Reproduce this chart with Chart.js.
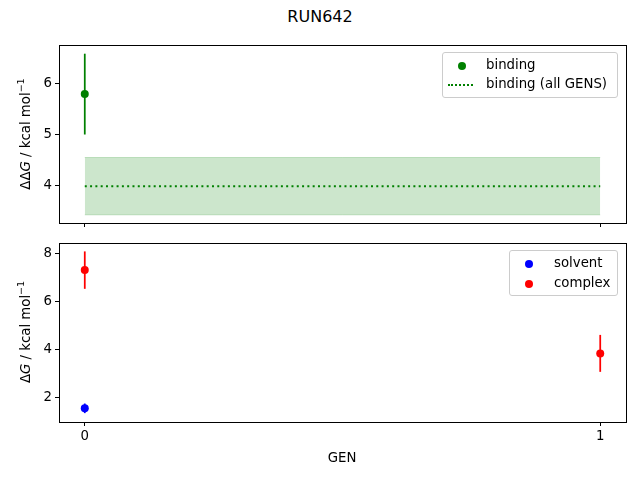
<!DOCTYPE html>
<html>
<head>
<meta charset="utf-8">
<script src="https://cdn.jsdelivr.net/npm/chart.js@4/dist/chart.umd.min.js"></script>
<style>
  body { margin: 0; background: #fff; font-family: "DejaVu Sans", sans-serif; }
  #wrap { position: relative; width: 640px; height: 480px; overflow: hidden; }
  canvas { position: absolute; left: 0; }
  .txt { position: absolute; color: #000; white-space: nowrap; font-size: 13.3px; }
  .ylab { transform: translate(-50%, -50%) rotate(-90deg); }
  .legend { position: absolute; background: rgba(255,255,255,0.8); border: 1px solid #cccccc; border-radius: 3px; box-sizing: border-box; }
  .entry { position: absolute; font-size: 13.3px; line-height: 16px; }
  .dot { position: absolute; width: 8px; height: 8px; border-radius: 50%; }
</style>
</head>
<body>
<div id="wrap">
  <div class="txt" style="left:320px; top:16px; transform:translate(-50%,-50%); font-size:16px;">RUN642</div>
  <canvas id="top" width="640" height="240" style="top:0"></canvas>
  <canvas id="bottom" width="640" height="250" style="top:230px"></canvas>

  <div class="txt ylab" style="left:24px; top:134px;">ΔΔ<i>G</i> / kcal mol<sup style="font-size:9.5px">−1</sup></div>
  <div class="txt ylab" style="left:24px; top:332px;">Δ<i>G</i> / kcal mol<sup style="font-size:9.5px">−1</sup></div>
  <div class="txt" style="left:342px; top:457px; transform:translate(-50%,-50%);">GEN</div>

  <div class="legend" style="left:442px; top:52px; width:176px; height:46px;">
    <div class="dot" style="left:15px; top:9px; background:#008000;"></div>
    <div class="entry" style="left:43px; top:4px;">binding</div>
    <div style="position:absolute; left:5px; top:31px; width:25px; border-top:2px dotted #008000;"></div>
    <div class="entry" style="left:43px; top:23px;">binding (all GENS)</div>
  </div>
  <div class="legend" style="left:509px; top:250px; width:109px; height:46px;">
    <div class="dot" style="left:15px; top:9px; background:#0000ff;"></div>
    <div class="entry" style="left:44px; top:4px;">solvent</div>
    <div class="dot" style="left:15px; top:29px; background:#ff0000;"></div>
    <div class="entry" style="left:44px; top:24px;">complex</div>
  </div>
</div>
<script>
// data
var genTicks = [0, 1];
var bindingGen = [0];
var bindingDG = [5.79];
var bindingErr = [0.79];
var bindingAllGen = [0, 1];
var bindingAllDG = 3.99;
var bindingAllErr = 0.56;
var solventGen = [0];
var solventDG = [1.54];
var solventErr = [0.2];
var complexGen = [0, 1];
var complexDG = [7.30, 3.83];
var complexErr = [0.78, 0.77];
var topTicks = [4, 5, 6];
var bottomTicks = [2, 4, 6, 8];

var font = { family: "DejaVu Sans", size: 13.3 };

function pts(xs, ys) {
    return xs.map(function (x, i) { return { x: x, y: Array.isArray(ys) ? ys[i] : ys }; });
}

var errorBars = {
    id: 'errorBars',
    beforeDatasetsDraw: function (chart) {
        var ctx = chart.ctx, xs = chart.scales.x, ys = chart.scales.y;
        chart.data.datasets.forEach(function (ds) {
            if (!ds.errors) return;
            ctx.save();
            ctx.strokeStyle = ds.borderColor;
            ctx.lineWidth = 1.75;
            ds.data.forEach(function (p, i) {
                var x = xs.getPixelForValue(p.x);
                ctx.beginPath();
                ctx.moveTo(x, ys.getPixelForValue(p.y - ds.errors[i]));
                ctx.lineTo(x, ys.getPixelForValue(p.y + ds.errors[i]));
                ctx.stroke();
            });
            ctx.restore();
        });
    }
};

var frame = {
    id: 'frame',
    afterDraw: function (chart) {
        var a = chart.chartArea, ctx = chart.ctx;
        ctx.save();
        ctx.strokeStyle = '#000';
        ctx.lineWidth = 1;
        ctx.strokeRect(Math.round(a.left) + 0.5, Math.round(a.top) + 0.5,
            Math.round(a.right - a.left), Math.round(a.bottom - a.top));
        ctx.restore();
    }
};

function makeOptions(yMin, yMax, yTicks, padTop, xHeight, showXLabels) {
    return {
        responsive: false,
        animation: false,
        layout: { padding: { top: padTop, right: 14, left: 0, bottom: 0 } },
        plugins: { legend: { display: false }, tooltip: { enabled: false } },
        scales: {
            x: {
                type: 'linear', min: -0.05, max: 1.05,
                afterBuildTicks: function (s) { s.ticks = genTicks.map(function (v) { return { value: v }; }); },
                afterFit: function (s) { s.height = xHeight; },
                grid: { drawOnChartArea: false, tickLength: 4, color: '#000' },
                border: { display: false },
                ticks: { display: showXLabels, color: '#000', font: font, padding: 3, maxRotation: 0 }
            },
            y: {
                type: 'linear', min: yMin, max: yMax,
                afterBuildTicks: function (s) { s.ticks = yTicks.map(function (v) { return { value: v }; }); },
                afterFit: function (s) { s.width = 59; },
                grid: { drawOnChartArea: false, tickLength: 4, color: '#000' },
                border: { display: false },
                ticks: { color: '#000', font: font, padding: 3 }
            }
        }
    };
}

new Chart(document.getElementById('top').getContext('2d'), {
    type: 'scatter',
    data: {
        datasets: [{
            label: 'binding',
            data: pts(bindingGen, bindingDG),
            errors: bindingErr,
            backgroundColor: '#008000', borderColor: '#008000',
            pointRadius: 4, pointBorderWidth: 0
        }, {
            label: 'binding (all GENS)',
            type: 'line',
            data: pts(bindingAllGen, bindingAllDG),
            borderColor: '#008000', borderWidth: 2, borderDash: [2, 3.3],
            pointRadius: 0, fill: false
        }, {
            label: 'upper',
            type: 'line',
            data: pts(bindingAllGen, bindingAllDG + bindingAllErr),
            borderColor: 'rgba(0,128,0,0.2)', borderWidth: 1,
            backgroundColor: 'rgba(0,128,0,0.2)',
            pointRadius: 0, fill: '+1'
        }, {
            label: 'lower',
            type: 'line',
            data: pts(bindingAllGen, bindingAllDG - bindingAllErr),
            borderColor: 'rgba(0,128,0,0.2)', borderWidth: 1,
            pointRadius: 0, fill: false
        }]
    },
    options: makeOptions(3.27, 6.75, topTicks, 45, 17, false),
    plugins: [errorBars, frame]
});

new Chart(document.getElementById('bottom').getContext('2d'), {
    type: 'scatter',
    data: {
        datasets: [{
            label: 'solvent',
            data: pts(solventGen, solventDG),
            errors: solventErr,
            backgroundColor: '#0000ff', borderColor: '#0000ff',
            pointRadius: 4, pointBorderWidth: 0
        }, {
            label: 'complex',
            data: pts(complexGen, complexDG),
            errors: complexErr,
            backgroundColor: '#ff0000', borderColor: '#ff0000',
            pointRadius: 4, pointBorderWidth: 0
        }]
    },
    options: makeOptions(0.97, 8.43, bottomTicks, 13, 58, true),
    plugins: [errorBars, frame]
});
</script>
</body>
</html>
